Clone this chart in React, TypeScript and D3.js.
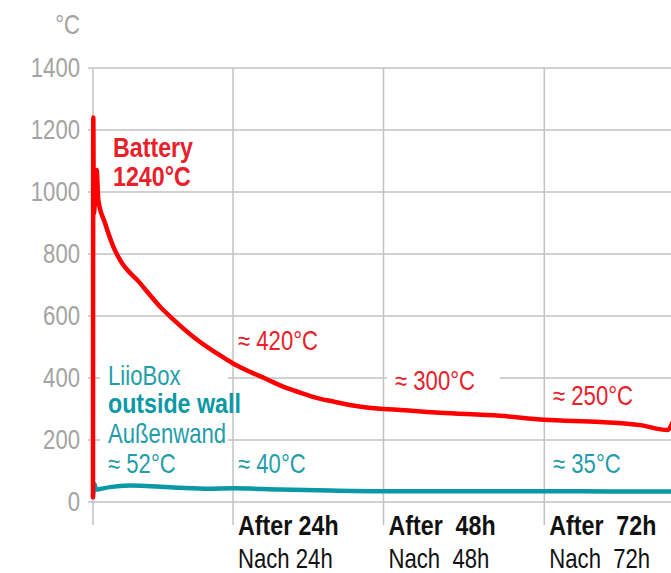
import * as d3 from "d3";
import type { ReactNode } from "react";

// hours after start of the test
const gridHours = [0, 24, 48, 72];
const yTicks = [0, 200, 400, 600, 800, 1000, 1200, 1400];

// battery temperature
const batteryHours = [0, 0.05, 0.14, 0.63, 0.91, 2.06, 3.48, 4.63, 8.06, 11.5, 13.7, 16.6, 18.3, 21.2, 24, 26.7, 29.4, 32, 34.7, 37.3, 40, 42.6, 45.3, 48, 50.5, 56.4, 65.4, 72, 80.4, 86.3, 90.4, 91.1];
const batteryTemp = [15, 1240, 930, 1071, 974, 900, 824, 781, 706, 630, 590, 542, 517, 480, 447, 420, 396, 372, 353, 336, 324, 313, 305, 300, 297, 288, 278, 265, 258, 248, 232, 255];

// outside wall temperature
const wallHours = [0, 0.25, 0.5, 1.2, 2.9, 6.3, 9.8, 14.9, 20, 24, 31.5, 39.4, 48, 58.5, 72, 83.3, 91.1];
const wallTemp = [16, 58, 40, 42, 48, 53, 51, 46, 43, 44, 40, 37, 35, 35, 35, 34, 34];

const afterLabels = ["After 24h", "After  48h", "After  72h"];
const nachLabels = ["Nach 24h", "Nach  48h", "Nach  72h"];

const width = 671;
const height = 573;
const font = "'Liberation Sans', Arial, sans-serif";
const gray = "#a3a3a3";
const gridColor = "#c2c2c2";
const red = "#ff0000";
const redText = "#e8202a";
const teal = "#0a98a6";
const tealText = "#1f9daa";

// condensed text: the original face is narrow, so squeeze a normal one
function T(props: {
  x: number;
  y: number;
  fill: string;
  bold?: boolean;
  size?: number;
  anchor?: "start" | "end";
  children: ReactNode;
}) {
  const s = props.bold ? 0.86 : 0.82;
  return (
    <text
      transform={`translate(${props.x},${props.y}) scale(${s},1)`}
      fill={props.fill}
      fontSize={props.size ?? 27}
      fontWeight={props.bold ? "bold" : "normal"}
      textAnchor={props.anchor ?? "start"}
      style={{ whiteSpace: "pre" }}
    >
      {props.children}
    </text>
  );
}

export default function App() {
  const x = d3.scaleLinear().domain(gridHours).range([93, 233, 383.5, 544.3]);
  const y = d3.scaleLinear().domain([0, 1400]).range([502, 68]);

  const line = d3
    .line<[number, number]>()
    .x((d) => x(d[0]))
    .y((d) => y(d[1]))
    .curve(d3.curveMonotoneX);

  const battery = batteryHours.map((h, i) => [h, batteryTemp[i]] as [number, number]);
  const wall = wallHours.map((h, i) => [h, wallTemp[i]] as [number, number]);

  return (
    <svg
      width={width}
      height={height}
      style={{ position: "absolute", left: 0, top: 0, display: "block", background: "#fff" }}
      fontFamily={font}
    >
      {/* grid */}
      {yTicks.map((t) => (
        <line key={"h" + t} x1={88} x2={width} y1={y(t)} y2={y(t)} stroke={gridColor} strokeWidth={1.5} />
      ))}
      {gridHours.map((h) => (
        <line key={"v" + h} x1={x(h)} x2={x(h)} y1={y(1400)} y2={525} stroke={gridColor} strokeWidth={1.5} />
      ))}

      {/* white boxes behind labels */}
      <rect x={100} y={360} width={128} height={88} fill="#fff" />
      <rect x={387} y={362} width={113} height={32} fill="#fff" />

      {/* y axis labels */}
      <T x={80} y={34} fill={gray} anchor="end">°C</T>
      {yTicks.map((t) => (
        <T key={"l" + t} x={80} y={y(t) + 9} fill={gray} anchor="end">
          {t}
        </T>
      ))}

      {/* lines */}
      <path d={line(wall) ?? ""} fill="none" stroke={teal} strokeWidth={4.5} strokeLinejoin="round" strokeLinecap="round" />
      <path d={line(battery) ?? ""} fill="none" stroke={red} strokeWidth={4.5} strokeLinejoin="round" strokeLinecap="round" />

      {/* battery labels */}
      <T x={113} y={157} fill={redText} bold>Battery</T>
      <T x={113} y={186} fill={redText} bold>1240°C</T>
      <T x={238} y={350} fill={redText}>≈ 420°C</T>
      <T x={395} y={390} fill={redText}>≈ 300°C</T>
      <T x={553} y={405} fill={redText}>≈ 250°C</T>

      {/* wall labels */}
      <T x={108} y={385} fill={tealText}>LiioBox</T>
      <T x={108} y={413} fill={teal} bold>outside wall</T>
      <T x={108} y={443} fill={tealText}>Außenwand</T>
      <T x={108} y={473} fill={tealText}>≈ 52°C</T>
      <T x={238} y={473} fill={tealText}>≈ 40°C</T>
      <T x={553} y={473} fill={tealText}>≈ 35°C</T>

      {/* time labels */}
      {gridHours.slice(1).map((h, i) => (
        <g key={"t" + h}>
          <T x={x(h) + 5} y={535} fill="#111" bold>{afterLabels[i]}</T>
          <T x={x(h) + 5} y={568} fill="#111">{nachLabels[i]}</T>
        </g>
      ))}
    </svg>
  );
}
